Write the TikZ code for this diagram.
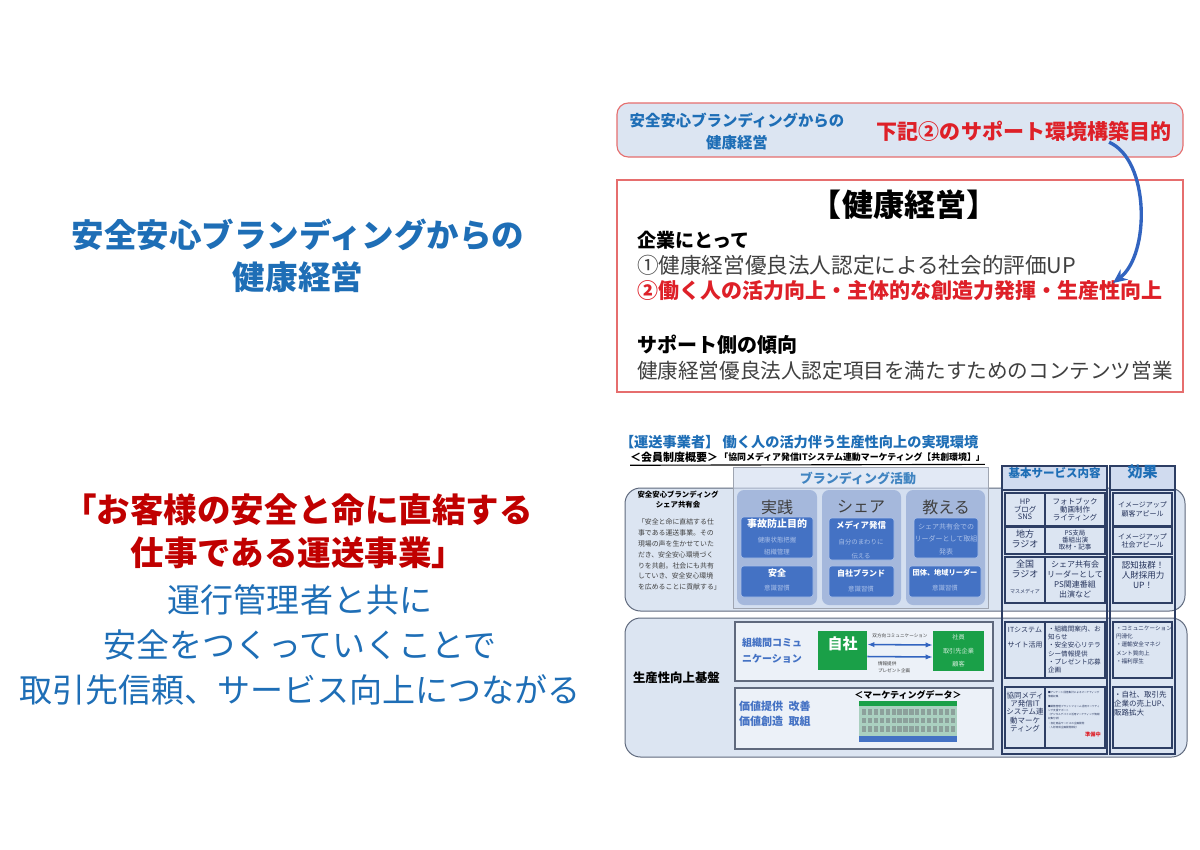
\documentclass[tikz,border=0pt]{standalone}
\usepackage{fontspec}
\setmainfont{Noto Sans CJK JP}
\usepackage{tikz}
\usetikzlibrary{arrows.meta, positioning, calc, fit}
\definecolor{titleblue}{RGB}{30,110,182}
\definecolor{quotered}{RGB}{192,0,0}
\definecolor{brightred}{RGB}{222,32,40}
\definecolor{boxred}{RGB}{230,110,110}
\definecolor{textgray}{RGB}{64,64,64}
\definecolor{textnavy}{RGB}{38,52,92}
\definecolor{panelfill}{RGB}{220,229,242}
\definecolor{paneledge}{RGB}{95,105,125}
\definecolor{colfill}{RGB}{150,172,214}
\definecolor{headfill}{RGB}{208,219,239}
\definecolor{innerblue}{RGB}{68,114,196}
\definecolor{subtext}{RGB}{170,192,232}
\definecolor{owngreen}{RGB}{26,160,72}
\definecolor{gridedge}{RGB}{45,62,100}
\definecolor{arrowblue}{RGB}{50,100,192}
\definecolor{tablefill}{RGB}{170,208,192}
\definecolor{cellgray}{RGB}{140,160,155}
\newcommand{\fs}[2]{\fontsize{\fpeval{#1*0.7113}pt}{\fpeval{#2*0.7113}pt}\selectfont}

\begin{document}
\begin{tikzpicture}[x=0.025cm, y=-0.025cm,
  txt/.style={inner sep=0pt, outer sep=0pt, align=center},
  panel/.style={draw=paneledge, line width=0.7pt, fill=panelfill, rounded corners=11pt, inner sep=0pt},
  colbox/.style={fill=colfill, fill opacity=0.75, rounded corners=5pt, inner sep=0pt},
  bluebox/.style={draw=subtext, line width=0.4pt, fill=innerblue, rounded corners=2pt, inner sep=0pt},
  greenbox/.style={fill=owngreen, inner sep=0pt},
  framebox/.style={draw=paneledge, line width=0.8pt, fill=panelfill!55!white, inner sep=0pt},
  cell/.style={draw=gridedge, line width=1pt, inner sep=0pt},
  boxhead/.style={txt, font=\bfseries\fs{10}{10}, text=white},
  boxsub/.style={txt, font=\fs{6.4}{6.4}, text=subtext},
  celltext/.style={txt, text=textnavy},
  link/.style={arrowblue, line width=1.1pt}
]
\fill[white] (0,0) rectangle (1200,849);
\useasboundingbox (0,0) rectangle (1200,849);

% left side
\node[txt, font=\bfseries\fs{32.5}{42}, text=titleblue] (lefttitle) at (298,256) {安全安心ブランディングからの\\健康経営};
\node[txt, font=\bfseries\fs{33.5}{43}, text=quotered] (quote) at (298,531) {「お客様の安全と命に直結する\\仕事である運送事業」};
\node[txt, font=\fs{33}{45}, text=titleblue] (message) at (300,645) {運行管理者と共に\\安全をつくっていくことで\\取引先信頼、サービス向上につながる};

% top right
\node[fit={(617,103) (1183,157)}, draw=boxred, line width=0.8pt, fill=panelfill, rounded corners=8pt, inner sep=0pt] (topbox) {};
\node[txt, font=\bfseries\fs{15.4}{22}, text=titleblue] (toptitle) at (737,131) {安全安心ブランディングからの\\健康経営};
\node[txt, font=\bfseries\fs{21}{21}, text=brightred] (goal) at (1024,131) {下記②のサポート環境構築目的};

\node[fit={(617,180) (1183,392)}, draw=boxred, line width=0.8pt, fill=white, inner sep=0pt] (mainbox) {};
\node[txt, font=\bfseries\fs{31}{31}] (healthhead) at (904,205) {【健康経営】};
\node[txt, anchor=west, font=\bfseries\fs{19}{19}] (companyhead) at (637,240) {企業にとって};
\node[txt, anchor=west, font=\fs{21.6}{21.6}, text=textgray] (point1) at (637,265) {①健康経営優良法人認定による社会的評価UP};
\node[txt, anchor=west, font=\bfseries\fs{21}{21}, text=brightred] (point2) at (637,291) {②働く人の活力向上・主体的な創造力発揮・生産性向上};
\node[txt, anchor=west, font=\bfseries\fs{20}{20}] (supporthead) at (637,345) {サポート側の傾向};
\node[txt, anchor=west, font=\fs{20.6}{20.6}, text=textgray] (supporttext) at (637,371) {健康経営優良法人認定項目を満たすためのコンテンツ営業};

\coordinate (arrowtip) at (1113,283);
\draw[arrowblue, line width=2.4pt, -{Stealth[length=10pt,width=9pt]}] ($(goal.south east)+(-62,1)$) .. controls (1150,160) and (1150,255) .. (arrowtip);

% bottom right title
\node[txt, anchor=west, font=\bfseries\fs{14.2}{14}, text=titleblue] (bizhead) at (620,442) {【運送事業者】 働く人の活力伴う生産性向上の実現環境};
\node[txt, anchor=west, font=\bfseries\fs{11}{11}] (memberhead) at (630,457) {＜会員制度概要＞};
\node[txt, font=\bfseries\fs{8.9}{9}, right=1pt of memberhead] (systemhead) {「協同メディア発信ITシステム連動マーケティング【共創環境】」};
\draw[line width=0.8pt] ($(memberhead.south west)+(0,3)$) -- ($(systemhead.south east)+(0,3)$);

% panels
\node[panel, fit={(625,488) (1185,611)}] (panelA) {};
\node[panel, fit={(625,618) (1187,757)}] (panelB) {};

% branding
\node[fit={(733,467) (988,608)}, fill=headfill, fill opacity=0.6, draw=paneledge!60, inner sep=0pt] (brand) {};
\node[txt, font=\bfseries\fs{13}{13}, text=titleblue!85] (brandhead) at (858,478) {ブランディング活動};
\node[colbox, fit={(737,490) (817,605)}] (practicecol) {};
\node[colbox, fit={(822,490) (901,605)}] (sharecol) {};
\node[colbox, fit={(906,490) (985,605)}] (teachcol) {};
\node[txt, font=\fs{16}{16}, text=textgray] (practicehead) at (777,507) {実践};
\node[txt, font=\fs{16}{16}, text=textgray] (sharehead) at (861,507) {シェア};
\node[txt, font=\fs{16}{16}, text=textgray] (teachhead) at (946,507) {教える};

\node[bluebox, fit={(741,517) (813,558)}] (accidentbox) {};
\node[boxhead] (accidenthead) at (777,524) {事故防止目的};
\node[boxsub] (accident1) at (777,540) {健康状態把握};
\node[boxsub] (accident2) at (777,552) {組織管理};
\node[bluebox, fit={(741,566) (813,597)}] (safetybox) {};
\node[boxhead, font=\bfseries\fs{9}{9}] (safetyhead) at (777,573) {安全};
\node[boxsub] (safety1) at (777,588) {意識習慣};

\node[bluebox, fit={(829,518) (894,560)}] (mediabox) {};
\node[boxhead, font=\bfseries\fs{8.4}{8.4}] (mediahead) at (861,525) {メディア発信};
\node[boxsub] (media1) at (861,542) {自分のまわりに};
\node[boxsub] (media2) at (861,556) {伝える};
\node[bluebox, fit={(829,566) (894,597)}] (brandbox) {};
\node[boxhead, font=\bfseries\fs{8}{8}] (brandboxhead) at (861,573) {自社ブランド};
\node[boxsub] (brand1) at (861,589) {意識習慣};

\node[bluebox, fit={(914,518) (978,558)}] (presentbox) {};
\node[boxsub, font=\fs{7}{12.5}] (present1) at (946,539) {シェア共有会での\\リーダーとして取組\\発表};
\node[bluebox, fit={(909,566) (981,597)}] (leaderbox) {};
\node[boxhead, font=\bfseries\fs{7.2}{7.2}] (leaderhead) at (945,573) {団体、地域リーダー};
\node[boxsub] (leader1) at (945,588) {意識習慣};

% share meeting text
\node[txt, font=\bfseries\fs{7.4}{10}] (sharetitle) at (678,500) {安全安心ブランディング\\シェア共有会};
\node[txt, anchor=west, align=left, font=\fs{6.9}{10.9}, text=textgray] (sharetext) at (638,554.5) {「安全と命に直結する仕\\事である運送事業。その\\現場の声を生かせていた\\だき、安全安心環境づく\\りを共創。社会にも共有\\していき、安全安心環境\\を広めることに貢献する」};

% productivity base
\node[txt, anchor=west, font=\bfseries\fs{12.4}{12.4}] (basehead) at (633,678) {生産性向上基盤};
\node[framebox, fit={(735,622) (993,681)}] (commbox) {};
\node[txt, anchor=west, align=left, font=\bfseries\fs{10}{16}, text=innerblue] (commhead) at (742,651) {組織間コミュ\\ニケーション};
\node[greenbox, fit={(818,631) (867,670)}, font=\bfseries\fs{15}{15}, text=white] (ownco) {自社};
\node[greenbox, fit={(933,631) (984,671)}] (partners) {};
\node[txt, font=\fs{6.2}{13.5}, text=white!80!owngreen] (partnerlist) at (958.5,651) {社員\\取引先企業\\顧客};
\draw[link, {Latex[length=5pt]}-{Latex[length=5pt]}] ($(ownco.east)+(0,-6)$) -- ($(partners.west)+(0,-6)$);
\draw[link, -{Latex[length=5pt]}] ($(ownco.east)+(0,6)$) -- ($(partners.west)+(0,6)$);
\node[txt, font=\fs{4.6}{4.6}, text=textgray] (twoway) at (900,636) {双方向コミュニケーション};
\node[txt, anchor=north west, align=left, font=\fs{4.6}{6.5}, text=textgray] (infoline) at (878,662) {情報提供\\プレゼント企画};

\node[framebox, fit={(735,688) (993,749)}] (valuebox) {};
\node[txt, anchor=west, align=left, font=\bfseries\fs{11}{15}, text=innerblue] (valuehead) at (739,714) {価値提供\hspace{0.5em}改善\\価値創造\hspace{0.5em}取組};
\node[txt, font=\bfseries\fs{9}{9}] (datahead) at (908,695) {＜マーケティングデータ＞};
\node[fit={(859,701) (957,742)}, fill=tablefill, inner sep=0pt] (datatable) {};
\fill[owngreen] (datatable.north west) rectangle ($(datatable.north east)+(0,5)$);
\fill[innerblue] ($(datatable.south west)+(0,-6)$) rectangle (datatable.south east);
\foreach \r in {0,1,2}
  \foreach \c in {0,...,15}
    \fill[cellgray] ({862+\c*5.9},{709+\r*8.5}) rectangle +(4.3,5.5);

% service and effect columns
\node[fit={(1002,466) (1107,754)}, draw=gridedge, line width=1pt, inner sep=0pt] (servicecol) {};
\node[fit={(1002,466) (1107,490)}, draw=gridedge, line width=1pt, fill=headfill, inner sep=0pt, font=\bfseries\fs{11.5}{11.5}, text=titleblue] (servicehead) {基本サービス内容};
\node[fit={(1110,466) (1175,754)}, draw=gridedge, line width=1pt, inner sep=0pt] (effectcol) {};
\node[fit={(1110,466) (1175,490)}, draw=gridedge, line width=1pt, fill=headfill, inner sep=0pt, font=\bfseries\fs{15}{15}, text=titleblue] (effecthead) {効果};

\node[cell, fit={(1005,493) (1045,526)}] (s1a) {};
\node[cell, fit={(1045,493) (1105,526)}] (s1b) {};
\node[cell, fit={(1005,527) (1045,554)}] (s2a) {};
\node[cell, fit={(1045,527) (1105,554)}] (s2b) {};
\node[cell, fit={(1005,557) (1045,603)}] (s3a) {};
\node[cell, fit={(1045,557) (1105,603)}] (s3b) {};
\node[cell, fit={(1005,622) (1045,678)}] (s4a) {};
\node[cell, fit={(1045,622) (1105,678)}] (s4b) {};
\node[cell, fit={(1005,687) (1045,748)}] (s5a) {};
\node[cell, fit={(1045,687) (1105,748)}] (s5b) {};
\node[cell, fit={(1113,493) (1172,526)}] (e1) {};
\node[cell, fit={(1113,527) (1172,554)}] (e2) {};
\node[cell, fit={(1113,557) (1172,603)}] (e3) {};
\node[cell, fit={(1113,622) (1172,678)}] (e4) {};
\node[cell, fit={(1113,687) (1172,748)}] (e5) {};

\node[celltext, font=\fs{7.5}{7.6}] (s1atext) at (s1a) {HP\\ブログ\\SNS};
\node[celltext, font=\fs{7.5}{7.6}] (s1btext) at (s1b) {フォトブック\\動画制作\\ライティング};
\node[celltext, font=\fs{9}{10}] (s2atext) at (1025,539) {地方\\ラジオ};
\node[celltext, font=\fs{6.5}{6.8}] (s2btext) at (1075,540) {PS支局\\番組出演\\取材・記事};
\node[celltext, font=\fs{9}{9.5}] (s3atext) at (1025,569) {全国\\ラジオ};
\node[celltext, font=\fs{5}{5}] (s3amass) at (1025,592) {マスメディア};
\node[celltext, font=\fs{8}{10}] (s3btext) at (1075,579) {シェア共有会\\リーダーとして\\PS関連番組\\出演など};
\node[celltext, font=\fs{7}{15}] (s4atext) at (1025,637.5) {ITシステム\\サイト活用};
\node[celltext, anchor=north west, align=left, font=\fs{6.6}{8.2}] (s4btext) at (1048,626) {・組織間案内、お\\知らせ\\・安全安心リテラ\\シー情報提供\\・プレゼント応募\\企画};
\node[celltext, font=\fs{7.5}{8.4}] (s5atext) at (1025,712) {協同メディ\\ア発信IT\\システム連\\動マーケ\\ティング};
\node[celltext, anchor=north west, align=left, font=\fs{2.6}{4.2}] (s5btext) at (1048,691) {■アンケート回答集計によるマーケティング\\情報収集\\[4pt]■業務管理プラットフォーム活用マーケティ\\ング支援サポート\\（デジタルデバイス活用マーケティング情報\\収集分析）\\・自社商品サービスの企画開発\\・人財育成企画開発検討};
\node[celltext, font=\bfseries\fs{5.2}{5.2}, text=brightred] (s5bnote) at (1093,735) {準備中};

\node[celltext, font=\fs{7}{9}] (e1text) at (e1) {イメージアップ\\顧客アピール};
\node[celltext, font=\fs{7}{8}] (e2text) at (e2) {イメージアップ\\社会アピール};
\node[celltext, font=\fs{8.5}{10}] (e3text) at (1143,575) {認知抜群！\\人財採用力\\UP！};
\node[celltext, anchor=north west, align=left, font=\fs{5.6}{8.2}] (e4text) at (1116,626) {・コミュニケーション\\円滑化\\・運輸安全マネジ\\メント質向上\\・福利厚生};
\node[celltext, anchor=north west, align=left, font=\fs{7.5}{9}] (e5text) at (1114,691) {・自社、取引先\\企業の売上UP、\\販路拡大};
\end{tikzpicture}
\end{document}
